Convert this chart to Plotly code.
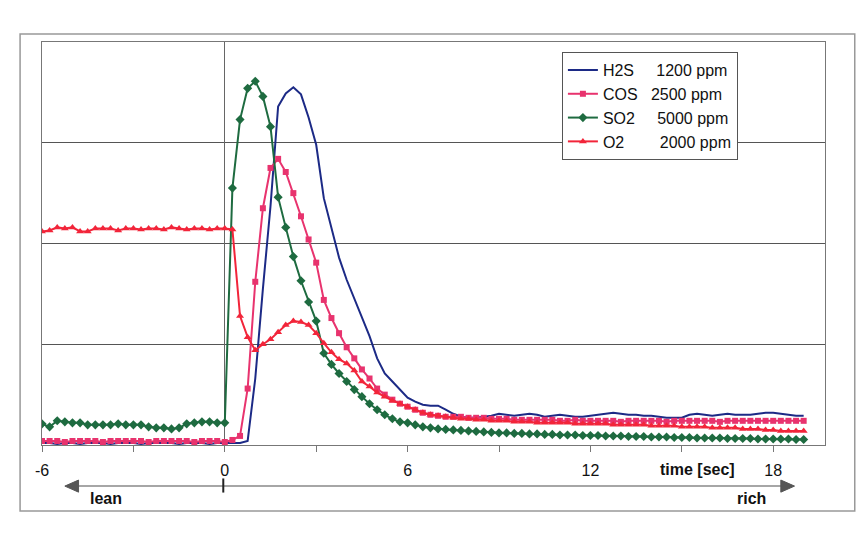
import plotly.graph_objects as go

# time axis: samples every 0.25 s from -6 to 19 s
time = [-6 + 0.25 * i for i in range(101)]

# signals (arbitrary units, gridline = 100)
h2s = [2, 2, 1, 2, 2, 1, 2, 2, 2, 1, 2, 2, 2, 1, 2, 2, 2, 2, 1, 2, 2, 2, 1, 2, 2, 2, 2,
       4,
       66, 155, 237, 336, 349, 355, 348, 325, 298, 245, 214, 186, 164, 145, 126, 108,
       86, 71, 63, 55, 47, 43, 40, 39, 39, 35,
       31, 28, 27, 27, 28, 29, 31, 30, 29, 30,
       31, 30, 28, 29, 30, 29, 28, 28, 29, 30,
       31, 32, 31, 30, 30, 29, 29, 28, 27, 27,
       27, 30, 31, 30, 29, 30, 31, 30, 30, 30,
       31, 32, 32, 31, 30, 29, 29]

cos = [4, 4, 4, 3, 4, 4, 4, 4, 3, 4, 4, 4, 4, 4, 3, 4, 4, 4, 4, 4, 3, 4, 4, 4, 3, 5,
       9, 56, 162, 235, 275, 284, 271, 250, 227, 204, 181, 144, 126, 111, 97, 86, 75, 66,
       56, 50, 45, 41, 38, 35, 32, 30, 29, 28,
       28, 28, 27, 27, 27, 26, 26, 26, 25, 25,
       25, 25, 25, 25, 24, 24, 25, 24, 24, 24,
       24, 24, 23, 24, 24, 24, 24, 24, 23, 24,
       24, 24, 24, 24, 24, 23, 24, 24, 24, 24,
       24, 24, 24, 24, 24, 24, 24]

so2 = [21, 18, 24, 23, 22, 22, 20, 20, 20, 20, 21, 20, 20, 20, 18, 17, 17, 16, 17, 21,
       22, 23, 23, 22, 22,
       255, 323, 354, 361, 346, 316, 246, 216, 187, 163, 142, 123, 91, 80, 71, 63, 55,
       48, 41, 35, 30, 26, 23, 22, 20, 18, 17, 16, 15.5,
       15, 14.5, 14, 13.5, 13, 12.5, 12, 12, 11.5, 11.5,
       11, 11, 10.5, 10.5, 10, 10, 10, 9.5, 9.5, 9.5,
       9, 9, 9, 8.5, 8.5, 8.5, 8, 8, 8, 7.5,
       7.5, 7.5, 7, 7, 7, 7, 6.5, 6.5, 6.5, 6.5,
       6, 6, 6, 6, 6, 5.5, 5.5]

o2 = [212, 213, 216, 215, 216, 212, 212, 215, 215, 215, 213, 215, 215, 214, 215,
      215, 214, 216, 215, 214, 215, 215, 214, 215, 215, 214,
      128, 107, 94, 100, 105, 112, 119, 123, 122, 119, 111, 101, 92, 85, 81, 74, 63,
      58, 52, 48, 44, 41, 38, 35, 32, 30, 29, 28,
      27, 26, 26, 25, 25, 24, 24, 24, 23, 23,
      23, 22, 22, 22, 22, 22, 21, 21, 21, 21,
      21, 20, 20, 20, 20, 20, 19, 19, 19, 19,
      18, 18, 18, 18, 17, 17, 17, 17, 16, 16,
      16, 15, 15, 14, 14, 14, 14]

nb = "\u00a0"
labels = ["H2S" + nb * 5 + "1200 ppm",
          "COS" + nb * 3 + "2500 ppm",
          "SO2" + nb * 5 + "5000 ppm",
          "O2" + nb * 8 + "2000 ppm"]
tick_vals = [-6, -3, 0, 3, 6, 9, 12, 15, 18]
tick_text = ["-6", "", "0", "", "6", "", "12", "", "18"]

font = "Liberation Sans, Arial, sans-serif"

fig = go.Figure()
fig.add_trace(go.Scatter(x=time, y=h2s, name=labels[0], mode="lines",
                         line=dict(color="#1c2a86", width=2)))
fig.add_trace(go.Scatter(x=time, y=cos, name=labels[1], mode="lines+markers",
                         line=dict(color="#e8336e", width=2),
                         marker=dict(symbol="square", size=6, color="#e8336e")))
fig.add_trace(go.Scatter(x=time, y=so2, name=labels[2], mode="lines+markers",
                         line=dict(color="#1e6b40", width=2),
                         marker=dict(symbol="diamond", size=7, color="#1e6b40")))
fig.add_trace(go.Scatter(x=time, y=o2, name=labels[3], mode="lines+markers",
                         line=dict(color="#f2253a", width=2),
                         marker=dict(symbol="triangle-up", size=7, color="#f2253a")))

fig.update_layout(
    width=865, height=547,
    margin=dict(l=42, r=40, t=42, b=102),
    paper_bgcolor="white", plot_bgcolor="white",
    font=dict(family=font, size=16, color="#111"),
    showlegend=True,
    legend=dict(x=0.664, y=0.975, xanchor="left", yanchor="top",
                bgcolor="white", bordercolor="#555", borderwidth=1,
                font=dict(size=16), tracegroupgap=0, itemwidth=30),
    xaxis=dict(range=[-6, 19.7], tickmode="array", tickvals=tick_vals,
               ticktext=tick_text, ticks="outside", ticklen=6, tickcolor="#777",
               showgrid=False, zeroline=True, zerolinecolor="#666", zerolinewidth=1,
               showline=True, linecolor="#777", linewidth=1, mirror=True,
               ticklabelstandoff=5),
    yaxis=dict(range=[0, 400], dtick=100, showticklabels=False,
               showgrid=True, gridcolor="#555", gridwidth=1, zeroline=False,
               showline=True, linecolor="#777", linewidth=1, mirror=True),
)

# outer frame
fig.add_shape(type="rect", xref="paper", yref="paper",
              x0=-0.028, x1=1.038, y0=-0.164, y1=1.02,
              line=dict(color="#999", width=1.5))

# lean / rich arrow below the axis
fig.add_shape(type="line", xref="x", yref="paper", x0=-4.9, x1=18.35,
              y0=-0.102, y1=-0.102, line=dict(color="#888", width=1.5))
fig.add_shape(type="path", xref="x", yref="paper",
              path="M -5.25,-0.102 L -4.8,-0.087 L -4.8,-0.117 Z",
              fillcolor="#555", line=dict(color="#555", width=1))
fig.add_shape(type="path", xref="x", yref="paper",
              path="M 18.7,-0.102 L 18.25,-0.087 L 18.25,-0.117 Z",
              fillcolor="#555", line=dict(color="#555", width=1))
fig.add_shape(type="line", xref="x", yref="paper", x0=-0.05, x1=-0.05,
              y0=-0.083, y1=-0.118, line=dict(color="#222", width=2))

fig.add_annotation(x=15.5, y=-0.06, xref="x", yref="paper", text="<b>time [sec]</b>",
                   showarrow=False, font=dict(size=16), xanchor="center", yanchor="middle")
fig.add_annotation(x=-3.9, y=-0.132, xref="x", yref="paper", text="<b>lean</b>",
                   showarrow=False, font=dict(size=16), xanchor="center", yanchor="middle")
fig.add_annotation(x=17.3, y=-0.132, xref="x", yref="paper", text="<b>rich</b>",
                   showarrow=False, font=dict(size=16), xanchor="center", yanchor="middle")

# drop the default page margin so the figure sits at the window origin
fig.write_html("out.html", config={"displayModeBar": False},
               post_script="document.body.style.margin='0';")
